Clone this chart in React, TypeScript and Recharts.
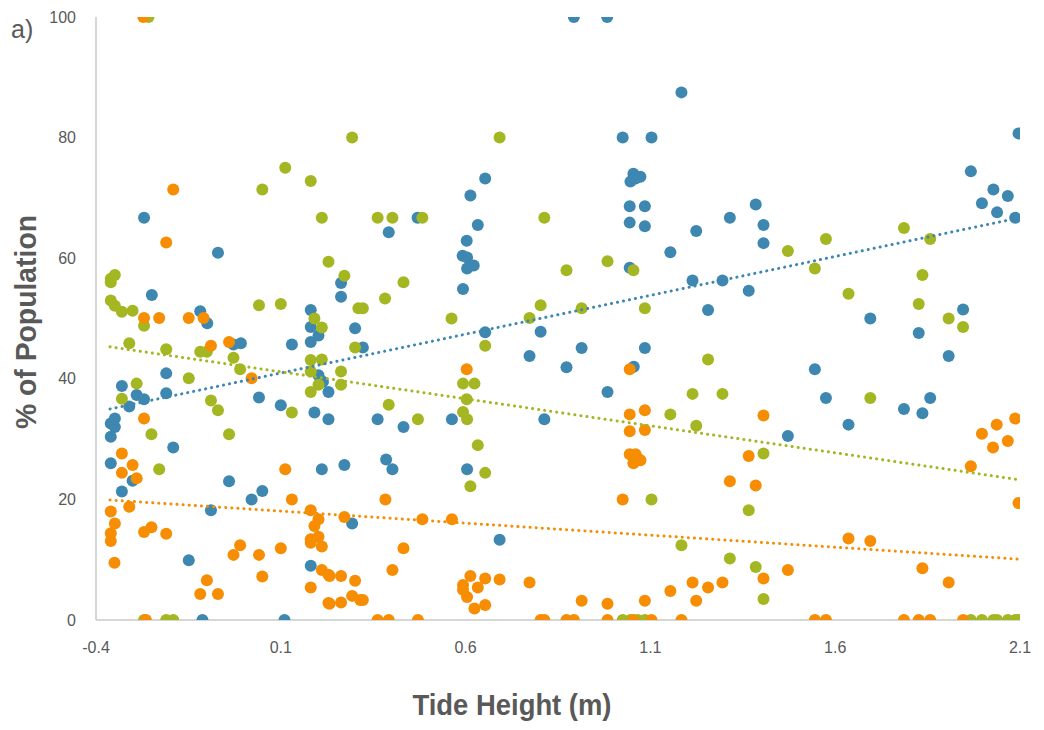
import React from 'react';
import { ScatterChart, Scatter, XAxis, YAxis, Label } from 'recharts';

const xTicks = [-0.4, 0.1, 0.6, 1.1, 1.6, 2.1];
const yTicks = [0, 20, 40, 60, 80, 100];

const bluePts: [number, number][] = [
  [-0.270, 66.7], [-0.070, 60.9], [-0.249, 53.9], [-0.118, 51.2], [-0.099, 49.2], [0.181, 51.4],
  [0.130, 45.7], [0.181, 46.1], [0.202, 47.2], [0.181, 48.6], [-0.028, 45.7], [-0.008, 45.9],
  [-0.210, 40.9], [-0.330, 38.8], [-0.290, 37.3], [-0.270, 36.6], [-0.310, 35.4], [-0.210, 37.6],
  [0.041, 36.9], [0.100, 35.6], [0.191, 34.4], [0.229, 33.3], [0.202, 40.6], [0.214, 39.5],
  [0.229, 37.8], [-0.360, 32.6], [-0.349, 33.4], [-0.349, 32.0], [-0.360, 30.4], [-0.191, 28.6],
  [-0.360, 26.0], [-0.301, 23.1], [-0.330, 21.3], [-0.040, 23.0], [0.211, 25.0], [0.050, 21.4],
  [0.021, 20.0], [-0.089, 18.2], [-0.149, 9.9], [0.181, 9.0], [-0.112, 0], [0.110, 0],
  [0.653, 73.2], [0.613, 70.4], [0.470, 66.7], [0.392, 64.3], [0.633, 65.5], [0.603, 62.9],
  [0.592, 60.4], [0.604, 60.1], [0.622, 58.8], [0.604, 58.3], [0.263, 55.9], [0.263, 53.6],
  [0.593, 54.9], [0.301, 48.4], [0.322, 45.2], [0.653, 47.7], [0.803, 47.8], [0.773, 43.8],
  [0.362, 33.3], [0.432, 32.0], [0.563, 33.3], [0.813, 33.3], [0.385, 26.6], [0.402, 25.0],
  [0.272, 25.7], [0.604, 25.0], [0.293, 16.0], [0.692, 13.3], [0.893, 100], [0.983, 100],
  [1.184, 87.5], [1.025, 80], [1.103, 80], [1.054, 74.0], [1.046, 72.7], [1.073, 73.5],
  [1.060, 73.2], [1.044, 68.6], [1.085, 68.6], [1.044, 65.9], [1.085, 65.3], [1.224, 64.5],
  [1.315, 66.7], [1.385, 68.9], [1.406, 65.5], [1.406, 62.5], [1.154, 61.0], [1.044, 58.4],
  [1.214, 56.3], [1.295, 56.3], [1.366, 54.6], [1.256, 51.4], [0.914, 45.1], [1.085, 45.1],
  [0.873, 41.9], [1.055, 42.0], [0.984, 37.8], [1.472, 30.5], [2.096, 80.7], [1.967, 74.4],
  [2.028, 71.4], [2.067, 70.3], [1.997, 69.1], [2.038, 67.6], [2.087, 66.7], [1.695, 50.0],
  [1.946, 51.5], [1.826, 47.6], [1.907, 43.8], [1.545, 41.6], [1.575, 36.8], [1.786, 35.0],
  [1.836, 34.3], [1.857, 36.8], [1.636, 32.4],
];

const greenPts: [number, number][] = [
  [-0.258, 100], [0.050, 71.4], [0.112, 75.0], [0.181, 72.8], [0.211, 66.7], [0.229, 59.4],
  [-0.360, 56.6], [-0.349, 57.2], [-0.360, 56.0], [-0.360, 53.0], [-0.349, 52.1], [-0.330, 51.1],
  [-0.301, 51.3], [0.041, 52.2], [0.100, 52.4], [0.191, 50.0], [-0.270, 48.8], [0.211, 48.5],
  [-0.310, 45.9], [-0.210, 44.9], [-0.118, 44.5], [-0.100, 44.5], [-0.028, 43.5], [-0.010, 41.6],
  [-0.149, 40.1], [-0.290, 39.2], [-0.330, 36.7], [-0.089, 36.4], [-0.070, 34.8], [0.130, 34.4],
  [0.181, 43.1], [0.211, 43.2], [0.181, 41.2], [0.202, 39.0], [0.181, 37.8], [-0.250, 30.8],
  [-0.040, 30.8], [-0.229, 25.0], [-0.270, 0], [-0.210, 0], [-0.191, 0], [0.293, 80.0],
  [0.692, 80.0], [0.362, 66.7], [0.402, 66.7], [0.483, 66.7], [0.813, 66.7], [0.272, 57.1],
  [0.432, 56.0], [0.382, 53.3], [0.310, 51.7], [0.322, 51.7], [0.562, 50.0], [0.803, 52.2],
  [0.773, 50.1], [0.301, 45.2], [0.653, 45.5], [0.263, 41.2], [0.263, 39.0], [0.593, 39.2],
  [0.624, 39.2], [0.603, 36.6], [0.593, 34.5], [0.604, 33.3], [0.392, 35.7], [0.471, 33.3],
  [0.633, 29.0], [0.653, 24.4], [0.613, 22.2], [0.873, 58.0], [0.984, 59.5], [1.054, 58.0],
  [1.472, 61.2], [0.914, 51.7], [1.085, 51.7], [1.256, 43.2], [1.214, 37.5], [1.295, 37.5],
  [1.154, 34.1], [1.224, 32.2], [1.406, 27.6], [1.103, 20.0], [1.366, 18.2], [1.184, 12.4],
  [1.315, 10.2], [1.385, 8.8], [1.406, 3.5], [1.025, 0], [1.046, 0], [1.066, 0],
  [1.085, 0], [1.575, 63.2], [1.545, 58.3], [1.786, 65.0], [1.857, 63.2], [1.836, 57.2],
  [1.636, 54.1], [1.826, 52.4], [1.907, 50.0], [1.946, 48.6], [1.695, 36.8], [1.967, 0],
  [1.997, 0], [2.028, 0], [2.038, 0], [2.067, 0], [2.087, 0], [2.096, 0],
];

const orangePts: [number, number][] = [
  [-0.272, 100], [-0.191, 71.4], [-0.210, 62.6], [-0.270, 50.1], [-0.229, 50.1], [-0.149, 50.1],
  [-0.109, 50.1], [-0.089, 45.5], [-0.040, 46.1], [0.021, 40.1], [-0.270, 33.4], [-0.330, 27.6],
  [-0.301, 25.7], [-0.330, 24.4], [-0.290, 23.5], [0.112, 25.0], [0.130, 20.0], [-0.310, 18.8],
  [-0.360, 18.0], [-0.349, 16.0], [-0.360, 14.4], [-0.360, 13.1], [-0.270, 14.6], [-0.250, 15.4],
  [-0.210, 14.3], [-0.350, 9.5], [0.181, 18.2], [0.202, 16.7], [0.191, 15.6], [0.181, 13.4],
  [0.202, 13.8], [0.211, 12.2], [0.181, 12.8], [-0.010, 12.4], [-0.028, 10.8], [0.041, 10.8],
  [0.100, 11.9], [0.211, 8.3], [0.229, 7.5], [-0.100, 6.6], [0.050, 7.2], [-0.118, 4.3],
  [-0.070, 4.3], [0.181, 5.4], [0.229, 2.8], [-0.265, 0], [0.603, 41.6], [0.383, 20.0],
  [0.272, 17.1], [0.483, 16.7], [0.563, 16.7], [0.432, 11.9], [0.232, 7.3], [0.263, 7.3],
  [0.301, 6.5], [0.402, 8.3], [0.293, 4.0], [0.315, 3.3], [0.322, 3.3], [0.232, 2.7],
  [0.263, 2.9], [0.613, 7.3], [0.593, 5.8], [0.633, 5.4], [0.593, 5.0], [0.653, 6.9],
  [0.604, 3.8], [0.624, 1.9], [0.653, 2.5], [0.692, 6.7], [0.773, 6.2], [0.362, 0],
  [0.392, 0], [0.471, 0], [0.803, 0], [0.813, 0], [1.044, 41.6], [1.044, 34.1],
  [1.085, 34.8], [1.044, 31.3], [1.085, 31.5], [1.406, 33.9], [1.044, 27.5], [1.060, 27.5],
  [1.073, 26.5], [1.054, 26.0], [1.066, 26.8], [1.366, 27.2], [1.315, 23.0], [1.385, 22.3],
  [1.025, 20.0], [1.472, 8.3], [1.406, 6.9], [1.154, 4.8], [1.214, 6.2], [1.256, 5.4],
  [1.295, 6.2], [1.224, 3.2], [0.914, 3.2], [0.984, 2.7], [1.085, 3.2], [0.873, 0],
  [0.893, 0], [0.984, 0], [1.054, 0], [1.103, 0], [1.184, 0], [1.997, 30.9],
  [2.037, 32.4], [2.087, 33.4], [2.067, 29.7], [2.027, 28.6], [1.967, 25.5], [2.096, 19.4],
  [1.636, 13.5], [1.695, 13.1], [1.836, 8.6], [1.907, 6.2], [1.545, 0], [1.575, 0],
  [1.786, 0], [1.826, 0], [1.857, 0], [1.946, 0],
];

const blueTrendPts: [number, number][] = [[-0.362, 35.0], [2.09, 66.6]];
const greenTrendPts: [number, number][] = [[-0.362, 45.3], [2.094, 23.3]];
const orangeTrendPts: [number, number][] = [[-0.362, 19.9], [2.094, 10.1]];

const BLUE = '#3d87b1';
const GREEN = '#a4b722';
const ORANGE = '#f68d02';
const TEXT = '#595959';
const AXIS = '#c8c8c8';
const TICK_FONT = "'Liberation Sans', Arial, sans-serif";
const TITLE_FONT = "'Liberation Sans', Arial, sans-serif";

const toObjs = (arr: [number, number][]) => arr.map(([x, y]) => ({ x, y }));

const dot = (color: string) => (p: any) => (
  <circle cx={p.cx} cy={p.cy} r={6} fill={color} stroke="none" />
);
const noDot = () => <g />;

const trendLine = (color: string) => ({
  stroke: color,
  strokeWidth: 3,
  strokeDasharray: '0.1 6',
  strokeLinecap: 'round' as const,
});

export default function App() {
  return (
    <div style={{ position: 'absolute', left: 0, top: 0, width: 1044, height: 730, background: '#fff' }}>
      <ScatterChart width={1044} height={730} margin={{ top: 17, right: 24, bottom: 0, left: 0 }}>
        <XAxis
          type="number"
          dataKey="x"
          domain={[-0.4, 2.1]}
          ticks={xTicks}
          allowDataOverflow
          height={110}
          tickLine={false}
          tickSize={0}
          tickMargin={22}
          axisLine={{ stroke: AXIS, strokeWidth: 1.5 }}
          tick={{ fill: TEXT, fontSize: 16, fontFamily: TICK_FONT }}
        >
          <Label
            content={() => (
              <text
                x={512}
                y={715}
                textAnchor="middle"
                fill={TEXT}
                fontSize={30}
                fontWeight="bold"
                fontFamily={TITLE_FONT}
                textLength={199}
                lengthAdjust="spacingAndGlyphs"
              >
                Tide Height (m)
              </text>
            )}
          />
        </XAxis>
        <YAxis
          type="number"
          dataKey="y"
          domain={[0, 100]}
          ticks={yTicks}
          allowDataOverflow
          width={96}
          tickLine={false}
          tickSize={0}
          tickMargin={20}
          axisLine={{ stroke: AXIS, strokeWidth: 1.5 }}
          tick={{ fill: TEXT, fontSize: 16, fontFamily: TICK_FONT }}
        >
          <Label
            content={() => {
              const cy = 322;
              return (
                <g>
                  <text
                    x={36}
                    y={cy}
                    transform={`rotate(-90, 36, ${cy})`}
                    textAnchor="middle"
                    fill={TEXT}
                    fontSize={30}
                    fontWeight="bold"
                    fontFamily={TITLE_FONT}
                    textLength={214}
                    lengthAdjust="spacingAndGlyphs"
                  >
                    % of Population
                  </text>
                  <text x={11} y={38} fill={TEXT} fontSize={25} fontFamily={TICK_FONT}>
                    a)
                  </text>
                </g>
              );
            }}
          />
        </YAxis>
        <Scatter data={toObjs(bluePts)} fill={BLUE} shape={dot(BLUE)} isAnimationActive={false} />
        <Scatter data={toObjs(greenPts)} fill={GREEN} shape={dot(GREEN)} isAnimationActive={false} />
        <Scatter data={toObjs(orangePts)} fill={ORANGE} shape={dot(ORANGE)} isAnimationActive={false} />
        <Scatter data={toObjs(blueTrendPts)} line={trendLine(BLUE)} shape={noDot} isAnimationActive={false} />
        <Scatter data={toObjs(greenTrendPts)} line={trendLine(GREEN)} shape={noDot} isAnimationActive={false} />
        <Scatter data={toObjs(orangeTrendPts)} line={trendLine(ORANGE)} shape={noDot} isAnimationActive={false} />
      </ScatterChart>
    </div>
  );
}
